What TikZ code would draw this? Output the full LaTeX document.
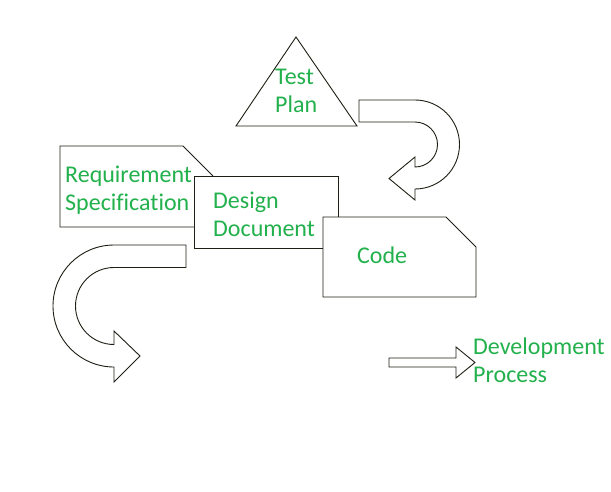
\documentclass[tikz,border=0pt]{standalone}
\usepackage{fontspec}
\setmainfont[Ligatures=NoCommon]{Carlito}
\definecolor{txtgreen}{HTML}{22B14C}
\definecolor{edge}{HTML}{1E1E14}
\begin{document}
\begin{tikzpicture}[x=1pt,y=-1pt,
  shapeline/.style={draw=edge,line width=0.9pt,fill=white,line join=miter},
  lbl/.style={anchor=base west,inner sep=0pt,text=txtgreen,font=\fontsize{24}{28.5}\selectfont}]
\useasboundingbox[fill=white] (0,0) rectangle (611,491);
% Requirement specification (snipped corner)
\draw[shapeline] (60,146) -- (183,146) -- (213,176) -- (213,227) -- (60,227) -- cycle;
\node[lbl] (req) at (65,182) {\begin{tabular}[t]{@{}l@{}}Requirement\\Specification\end{tabular}};
% Design document
\draw[shapeline] (194,176) rectangle (338,248);
\node[lbl] (design) at (213,208) {\begin{tabular}[t]{@{}l@{}}Design\\Document\end{tabular}};
% Code (snipped corner)
\draw[shapeline] (323,217) -- (446,217) -- (476,247) -- (476,297) -- (323,297) -- cycle;
\node[lbl] (code) at (357,263) {Code};
% Test plan triangle
\draw[shapeline] (236,126) -- (296,37) -- (357,126) -- cycle;
\node[lbl] (test) at (275,84) {\begin{tabular}[t]{@{}l@{}}Test\\Plan\end{tabular}};
% top-right U-turn arrow
\draw[shapeline] (359,100) -- (415,100) arc[start angle=-90,end angle=90,radius=44.5]
  -- (415,200) -- (389,178.5) -- (415,157) -- (415,167)
  arc[start angle=90,end angle=-90,radius=22.5] -- (359,122) -- cycle;
% left U-turn arrow
\draw[shapeline] (186,245) -- (114,245) arc[start angle=-90,end angle=-270,radius=61]
  -- (114,382) -- (140,356) -- (114,331) -- (114,344.5)
  arc[start angle=90,end angle=270,radius=38.5] -- (186,267.5) -- cycle;
% small legend arrow
\draw[shapeline] (389,358) -- (456,358) -- (456,347) -- (475,362.5) -- (456,378) -- (456,367) -- (389,367) -- cycle;
\node[lbl] (dev) at (473,354) {\begin{tabular}[t]{@{}l@{}}Development\\Process\end{tabular}};
\end{tikzpicture}
\end{document}
